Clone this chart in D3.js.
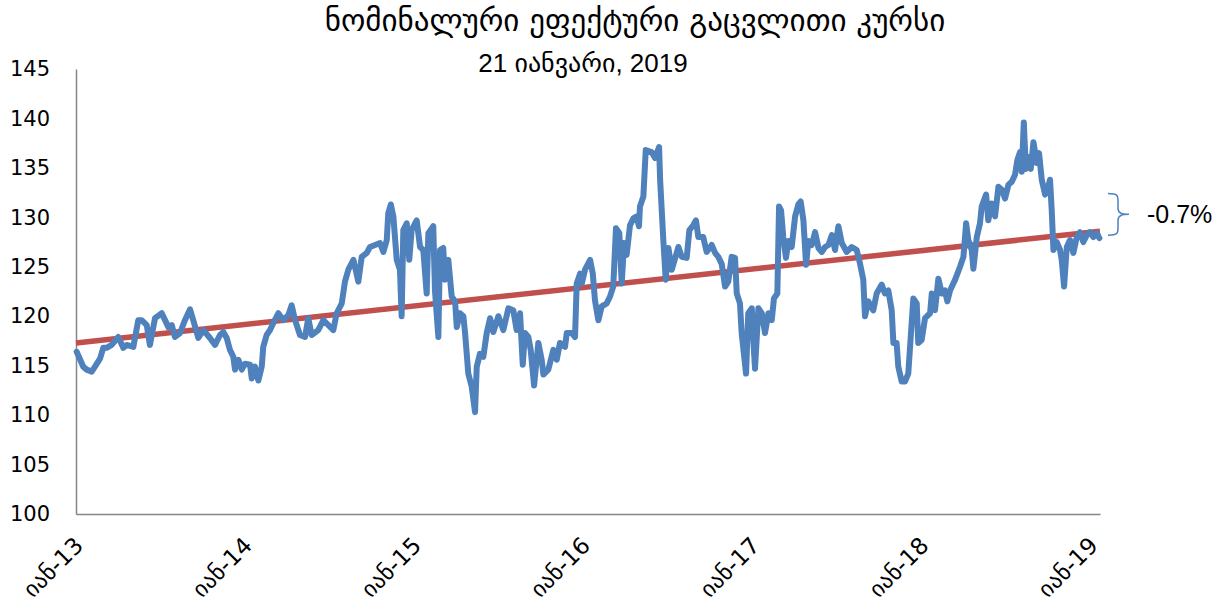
<!DOCTYPE html>
<html lang="ka">
<head>
  <meta charset="UTF-8">
  <title>ნომინალური ეფექტური გაცვლითი კურსი</title>
  <script src="https://d3js.org/d3.v7.min.js"></script>
  <style>
    body { margin: 0; background: #fff; }
    .tick-label { font-family: "DejaVu Sans", sans-serif; font-size: 21px; fill: #000; }
    .x-label { font-size: 23px; }
    .title { font-family: "DejaVu Sans", sans-serif; font-size: 31px; fill: #000; }
    .subtitle { font-family: "Liberation Sans", "DejaVu Sans", sans-serif; font-size: 26px; fill: #000; }
    .note { font-family: "Liberation Sans", sans-serif; font-size: 25px; fill: #000; }
  </style>
</head>
<body>
<script>
// years since 1 Jan 2013
const seriesYears = [
  0.004, 0.043, 0.063, 0.093, 0.112, 0.142, 0.161, 0.181, 0.211, 0.250, 0.280, 0.300, 0.339, 0.368, 0.388,
  0.418, 0.437, 0.467, 0.507, 0.546, 0.566, 0.585, 0.615, 0.644, 0.674, 0.693, 0.723, 0.753, 0.792, 0.822,
  0.851, 0.871, 0.891, 0.910, 0.930, 0.940, 0.960, 0.980, 0.999, 1.029, 1.039, 1.058, 1.078, 1.098, 1.107,
  1.127, 1.147, 1.166, 1.196, 1.226, 1.255, 1.275, 1.295, 1.324, 1.354, 1.373, 1.393, 1.432, 1.462, 1.492,
  1.521, 1.541, 1.571, 1.590, 1.610, 1.640, 1.669, 1.689, 1.719, 1.738, 1.768, 1.797, 1.817, 1.837, 1.846,
  1.861, 1.876, 1.896, 1.915, 1.925, 1.935, 1.955, 1.970, 1.984, 2.014, 2.034, 2.053, 2.073, 2.083, 2.112,
  2.122, 2.142, 2.152, 2.171, 2.181, 2.201, 2.221, 2.241, 2.251, 2.270, 2.290, 2.300, 2.319, 2.339, 2.359,
  2.369, 2.388, 2.408, 2.428, 2.448, 2.467, 2.497, 2.526, 2.556, 2.585, 2.605, 2.625, 2.641, 2.654, 2.674,
  2.688, 2.708, 2.733, 2.753, 2.763, 2.792, 2.822, 2.842, 2.861, 2.891, 2.901, 2.931, 2.950, 2.960, 2.980,
  2.990, 3.009, 3.039, 3.055, 3.068, 3.088, 3.108, 3.137, 3.157, 3.176, 3.192, 3.212, 3.226, 3.240, 3.255,
  3.275, 3.295, 3.315, 3.328, 3.334, 3.354, 3.368, 3.403, 3.423, 3.447, 3.453, 3.472, 3.486, 3.502, 3.522,
  3.561, 3.581, 3.610, 3.626, 3.649, 3.665, 3.679, 3.708, 3.728, 3.758, 3.778, 3.797, 3.817, 3.837, 3.856,
  3.876, 3.896, 3.906, 3.925, 3.935, 3.961, 3.974, 3.995, 4.004, 4.014, 4.034, 4.054, 4.073, 4.093, 4.113,
  4.126, 4.146, 4.156, 4.168, 4.181, 4.197, 4.211, 4.231, 4.251, 4.270, 4.284, 4.300, 4.316, 4.329, 4.349,
  4.369, 4.389, 4.409, 4.428, 4.448, 4.468, 4.487, 4.507, 4.527, 4.556, 4.586, 4.615, 4.635, 4.654, 4.664,
  4.684, 4.713, 4.733, 4.763, 4.782, 4.802, 4.822, 4.832, 4.851, 4.861, 4.881, 4.901, 4.920, 4.940, 4.950,
  4.970, 4.979, 4.999, 5.019, 5.049, 5.059, 5.078, 5.098, 5.118, 5.137, 5.151, 5.167, 5.197, 5.226, 5.246,
  5.262, 5.275, 5.295, 5.305, 5.325, 5.344, 5.354, 5.380, 5.393, 5.413, 5.433, 5.453, 5.473, 5.492, 5.512,
  5.532, 5.551, 5.565, 5.581, 5.591, 5.603, 5.615, 5.630, 5.644, 5.660, 5.680, 5.693, 5.709, 5.729, 5.742,
  5.758, 5.768, 5.778, 5.798, 5.817, 5.827, 5.841, 5.857, 5.876, 5.896, 5.916, 5.935, 5.955, 5.975, 5.994,
  6.014, 6.034, 6.050
];
const seriesValues = [
  116.4, 114.9, 114.6, 114.4, 114.9, 115.7, 116.8, 116.8, 117.1, 117.9, 116.8, 117.1, 116.9, 119.6, 119.6,
  119.1, 117.1, 119.8, 120.3, 118.9, 119.1, 117.9, 118.3, 119.6, 120.7, 119.6, 117.8, 118.6, 117.8, 117.1,
  118.1, 118.4, 117.8, 116.6, 115.9, 114.6, 115.6, 114.6, 115.2, 115.1, 113.7, 114.9, 113.5, 114.9, 116.9,
  118.1, 118.6, 119.3, 120.3, 119.6, 120.1, 121.1, 119.6, 118.1, 117.9, 119.8, 118.1, 118.6, 119.6, 119.1,
  118.6, 120.3, 121.3, 123.5, 124.7, 125.7, 123.5, 126.0, 126.4, 127.0, 127.2, 127.4, 126.5, 127.7, 130.4,
  131.3, 130.1, 125.7, 124.7, 120.0, 128.7, 129.4, 125.7, 128.7, 129.7, 127.0, 126.7, 122.3, 128.4, 129.1,
  122.6, 117.9, 126.7, 126.9, 123.7, 125.7, 122.0, 121.5, 118.9, 120.3, 120.0, 118.3, 114.2, 112.9, 110.3,
  114.9, 116.2, 115.9, 118.3, 119.8, 118.4, 120.0, 118.6, 120.8, 120.6, 118.6, 120.3, 115.1, 118.3, 117.9,
  116.6, 113.0, 117.3, 115.6, 114.1, 114.6, 116.6, 115.6, 117.3, 116.9, 118.3, 118.3, 117.9, 123.3, 124.3,
  123.3, 124.7, 125.7, 124.3, 121.6, 119.6, 121.0, 121.3, 122.0, 123.0, 128.9, 128.4, 123.3, 127.4, 126.2,
  129.2, 129.9, 130.1, 129.1, 131.1, 132.1, 136.8, 136.6, 136.0, 137.1, 133.8, 127.7, 123.7, 126.9, 124.7,
  127.0, 126.0, 125.9, 128.7, 129.2, 129.7, 128.0, 128.0, 126.5, 127.2, 126.4, 126.0, 125.3, 123.0, 123.5,
  126.0, 125.9, 122.3, 121.3, 118.3, 114.2, 120.3, 120.8, 117.6, 114.7, 120.8, 120.3, 118.3, 120.3, 119.6,
  121.8, 122.3, 131.1, 130.7, 128.0, 125.9, 127.6, 127.0, 130.1, 131.3, 131.6, 129.7, 125.2, 127.6, 127.2,
  128.5, 126.9, 126.5, 127.0, 127.2, 128.2, 126.7, 129.1, 127.4, 126.5, 127.0, 126.7, 125.3, 123.7, 120.0,
  121.5, 120.6, 122.3, 123.2, 122.3, 122.6, 120.6, 117.3, 117.3, 114.9, 113.4, 113.4, 114.2, 119.3, 121.8,
  121.3, 117.3, 117.6, 119.8, 120.3, 122.3, 120.6, 123.8, 122.3, 122.6, 121.5, 122.6, 123.7, 125.0, 126.0,
  129.4, 127.7, 126.7, 124.8, 128.0, 129.4, 131.1, 132.3, 129.7, 131.4, 130.1, 133.1, 132.8, 131.9, 133.3,
  133.6, 134.3, 135.8, 136.6, 134.6, 139.6, 134.9, 136.1, 134.9, 137.6, 135.5, 136.5, 133.8, 132.3, 132.8,
  133.8, 130.7, 126.7, 127.5, 126.7, 125.7, 123.0, 127.0, 127.7, 126.4, 128.0, 128.5, 127.5, 128.2, 128.5,
  128.0, 128.4, 127.9
];
// linear trend, start and end values
const trendValues = [117.3, 128.6];
const yTicks = [100, 105, 110, 115, 120, 125, 130, 135, 140, 145];
const xTickLabels = ["იან-13", "იან-14", "იან-15", "იან-16", "იან-17", "იან-18", "იან-19"];
const xTickYears = [2013, 2014, 2015, 2016, 2017, 2018, 2019];
const firstDate = new Date(2013, 0, 1), lastDate = new Date(2019, 0, 21);
const changeLabel = "-0.7%";
const braceRange = [128.2, 132.4];
const titleText = "ნომინალური ეფექტური გაცვლითი კურსი";
const subtitleText = "21 იანვარი, 2019";

const W = 1227, H = 605;
const plot = { left: 76, right: 1100, top: 69, bottom: 514 };

const svg = d3.select("body").append("svg").attr("width", W).attr("height", H);

const toDate = t => new Date(firstDate.getTime() + t * 365.25 * 864e5);

const x = d3.scaleTime().domain([firstDate, lastDate]).range([plot.left, plot.right]);
const y = d3.scaleLinear().domain([100, 145]).range([plot.bottom, plot.top]);

const series = seriesYears.map((t, i) => ({ date: toDate(t), value: seriesValues[i] }));

// titles
svg.append("text").attr("class", "title")
  .attr("x", 635).attr("y", 31).attr("text-anchor", "middle").text(titleText);
svg.append("text").attr("class", "subtitle")
  .attr("x", 583).attr("y", 72).attr("text-anchor", "middle").text(subtitleText);

// y axis
const yAxis = svg.append("g")
  .attr("transform", `translate(${plot.left},0)`)
  .call(d3.axisLeft(y).tickValues(yTicks).tickSize(0).tickPadding(26));
yAxis.select(".domain").attr("stroke", "#868686").attr("stroke-width", 1.5);
yAxis.selectAll("text").attr("class", "tick-label").attr("font-family", null).attr("font-size", null);

// x axis
const xAxis = svg.append("g")
  .attr("transform", `translate(0,${plot.bottom})`)
  .call(d3.axisBottom(x).tickValues(xTickYears.map(yr => new Date(yr, 0, 1)))
    .tickFormat((d, i) => xTickLabels[i]).tickSize(0));
xAxis.select(".domain").attr("stroke", "#868686").attr("stroke-width", 1.5);
xAxis.selectAll("text")
  .attr("class", "tick-label x-label").attr("font-family", null).attr("font-size", null)
  .attr("text-anchor", "end")
  .attr("dy", null)
  .attr("y", 0)
  .attr("transform", "translate(8,33) rotate(-45)");

// trend line
svg.append("line")
  .attr("x1", x(firstDate)).attr("y1", y(trendValues[0]))
  .attr("x2", x(lastDate)).attr("y2", y(trendValues[1]))
  .attr("stroke", "#C0504D").attr("stroke-width", 5.5);

// series
const line = d3.line().x(d => x(d.date)).y(d => y(d.value)).curve(d3.curveLinear);
svg.append("path").datum(series)
  .attr("d", line)
  .attr("fill", "none")
  .attr("stroke", "#4F81BD")
  .attr("stroke-width", 6)
  .attr("stroke-linejoin", "round")
  .attr("stroke-linecap", "round");

// brace + change label
const bx = x(lastDate) + 8, y0 = y(braceRange[1]), y1 = y(braceRange[0]), ym = (y0 + y1) / 2;
svg.append("path")
  .attr("d", `M${bx},${y0} C${bx + 10},${y0} ${bx + 10},${y0 + 2} ${bx + 10},${y0 + 8}
    L${bx + 10},${ym - 6} C${bx + 10},${ym - 1} ${bx + 14},${ym} ${bx + 21},${ym}
    C${bx + 14},${ym} ${bx + 10},${ym + 1} ${bx + 10},${ym + 6}
    L${bx + 10},${y1 - 8} C${bx + 10},${y1 - 2} ${bx + 10},${y1} ${bx},${y1}`)
  .attr("fill", "none").attr("stroke", "#4F81BD").attr("stroke-width", 1.5);
svg.append("text").attr("class", "note")
  .attr("x", bx + 39).attr("y", ym + 9).text(changeLabel);
</script>
</body>
</html>
